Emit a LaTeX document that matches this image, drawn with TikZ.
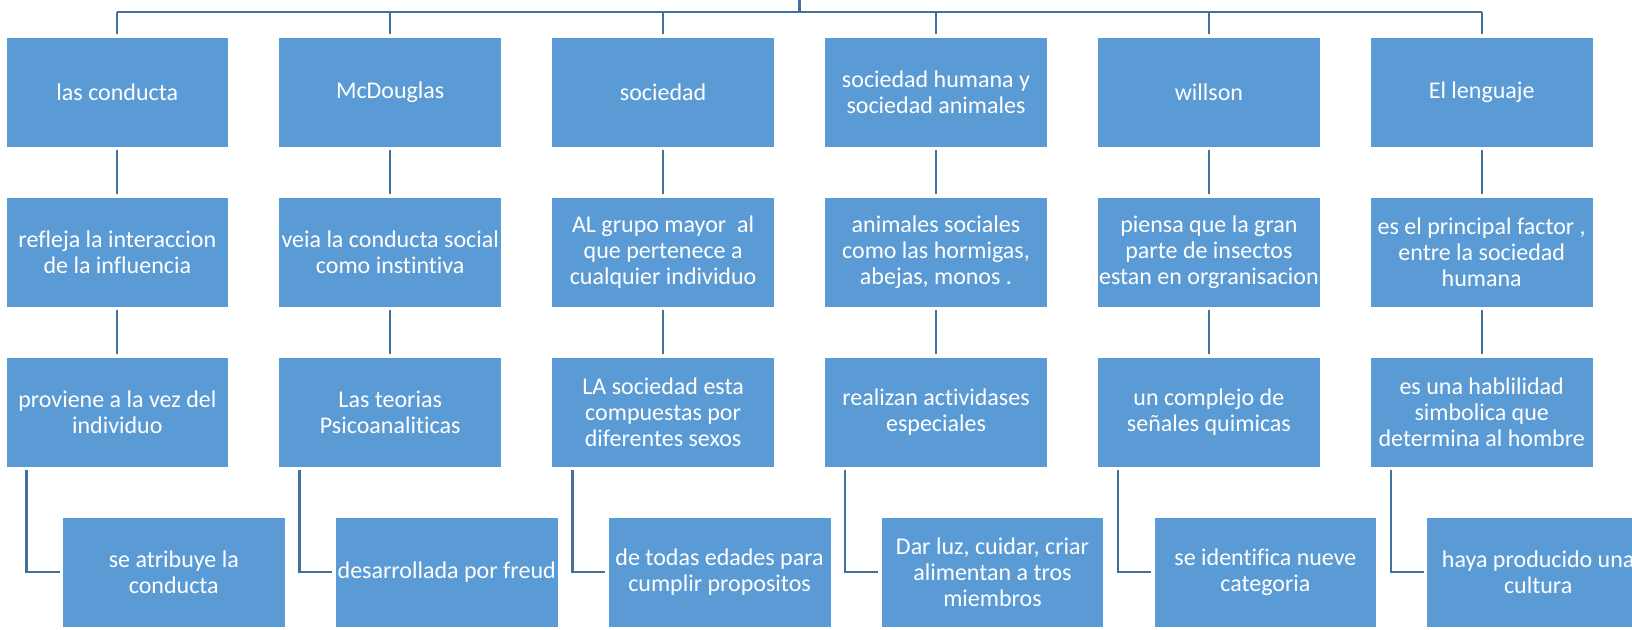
\documentclass[tikz,border=0pt]{standalone}
\usepackage{fontspec}
\setmainfont{Carlito}[Ligatures={NoCommon}]
\definecolor{boxfill}{HTML}{5B9BD5}
\definecolor{linecol}{HTML}{41719C}
\begin{document}
\begin{tikzpicture}[x=1pt,y=-1pt,
  bx/.style={rectangle,fill=boxfill,draw=white,line width=0.8pt,minimum width=222.7pt,minimum height=110pt,inner sep=0pt,text=white,align=center,font=\fontsize{24}{26}\selectfont},
  conn/.style={draw=linecol,line width=2.3pt}]
\useasboundingbox (0,0) rectangle (1632,629);
\clip (0,0) rectangle (1632,629);
\node[bx] (r1c1) at (117.3,92) {las conducta};
\node[bx] (r1c2) at (390.2,92) {McDouglas};
\node[bx] (r1c3) at (663.1,92) {sociedad};
\node[bx] (r1c4) at (936.0,92) {sociedad humana y\\sociedad animales};
\node[bx] (r1c5) at (1208.9,92) {willson};
\node[bx] (r1c6) at (1481.7,92) {El lenguaje};

\node[bx] (r2c1) at (117.3,252) {refleja la interaccion\\de la influencia};
\node[bx] (r2c2) at (390.2,252) {veia la conducta social\\como instintiva};
\node[bx] (r2c3) at (663.1,252) {AL grupo mayor~ al\\que pertenece a\\cualquier individuo};
\node[bx] (r2c4) at (936.0,252) {animales sociales\\como las hormigas,\\abejas, monos .};
\node[bx] (r2c5) at (1208.9,252) {piensa que la gran\\parte de insectos\\estan en orgranisacion};
\node[bx] (r2c6) at (1481.7,252) {es el principal factor ,\\entre la sociedad\\humana};

\node[bx] (r3c1) at (117.3,412) {proviene a la vez del\\individuo};
\node[bx] (r3c2) at (390.2,412) {Las teorias\\Psicoanaliticas};
\node[bx] (r3c3) at (663.1,412) {LA sociedad esta\\compuestas por\\diferentes sexos};
\node[bx] (r3c4) at (936.0,412) {realizan actividases\\especiales};
\node[bx] (r3c5) at (1208.9,412) {un complejo de\\señales quimicas};
\node[bx] (r3c6) at (1481.7,412) {es una hablilidad\\simbolica que\\determina al hombre};

\node[bx] (r4c1) at (173.8,572) {se atribuye la\\conducta};
\node[bx] (r4c2) at (446.7,572) {desarrollada por freud};
\node[bx] (r4c3) at (719.6,572) {de todas edades para\\cumplir propositos};
\node[bx] (r4c4) at (992.5,572) {Dar luz, cuidar, criar\\alimentan a tros\\miembros};
\node[bx] (r4c5) at (1265.4,572) {se identifica nueve\\categoria};
\node[bx] (r4c6) at (1538.2,572) {haya producido una\\cultura};

\coordinate (top) at (799.5,0);
\coordinate (bus) at (799.5,12);
\draw[conn] (top) -- (bus);
\draw[conn] (117.3,12) -- (1481.7,12);
\foreach \c in {1,...,6}{
  \draw[conn] (bus -| r1c\c.north) -- ([yshift=3pt]r1c\c.north);
  \draw[conn] ([yshift=-3pt]r1c\c.south) -- ([yshift=3pt]r2c\c.north);
  \draw[conn] ([yshift=-3pt]r2c\c.south) -- ([yshift=3pt]r3c\c.north);
  \draw[conn] ([xshift=21pt,yshift=-3pt]r3c\c.south west) |- ([xshift=-2.5pt]r4c\c.west);
}
\end{tikzpicture}
\end{document}
